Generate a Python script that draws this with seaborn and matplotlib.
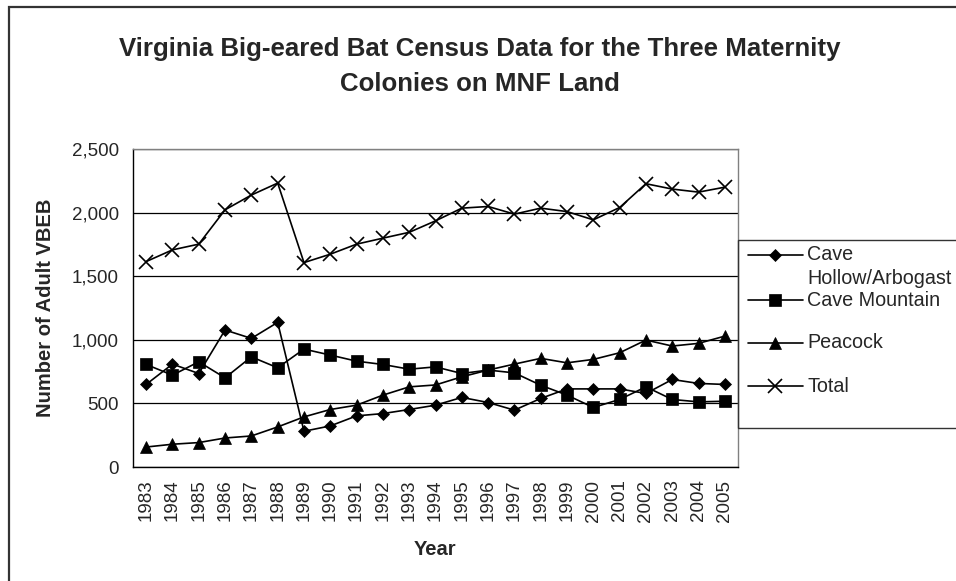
import matplotlib
matplotlib.use("Agg")
import matplotlib.pyplot as plt
from matplotlib.lines import Line2D
from matplotlib.patches import Rectangle
from matplotlib.ticker import FuncFormatter, MultipleLocator
import pandas as pd
import seaborn as sns

# Data
years = list(range(1983, 2006))
cave_hollow = [649, 809, 735, 1077, 1011, 1137, 281, 323, 402, 420, 452, 486,
               547, 507, 447, 539, 614, 614, 614, 578, 688, 657, 649]
cave_mountain = [806, 722, 827, 701, 866, 780, 927, 880, 832, 806, 769, 787,
                 735, 762, 740, 643, 565, 468, 531, 630, 531, 512, 517]
peacock = [157, 179, 192, 228, 244, 315, 394, 452, 486, 565, 630, 645,
           709, 762, 809, 854, 819, 846, 898, 998, 951, 972, 1029]
total = [1615, 1707, 1752, 2022, 2138, 2232, 1607, 1673, 1752, 1799, 1845, 1935,
         2035, 2048, 1988, 2035, 2008, 1943, 2040, 2227, 2185, 2161, 2200]

series_names = ["Cave Hollow/Arbogast", "Cave Mountain", "Peacock", "Total"]
series_values = [cave_hollow, cave_mountain, peacock, total]
marker_map = {"Cave Hollow/Arbogast": "D", "Cave Mountain": "s", "Peacock": "^", "Total": "x"}
size_map = {"Cave Hollow/Arbogast": 6, "Cave Mountain": 8, "Peacock": 8.5, "Total": 10}

df = pd.concat([pd.DataFrame({"Year": years, "count": vals, "series": name})
                for name, vals in zip(series_names, series_values)])

sns.set_style("white")
plt.rcParams["font.family"] = ["Liberation Sans", "DejaVu Sans"]

W, H = 956, 581
fig = plt.figure(figsize=(W / 100, H / 100), dpi=100)
ax = fig.add_axes([133 / W, 1 - 467 / H, (738 - 133) / W, (467 - 149) / H])

for name in series_names:
    sns.lineplot(data=df[df["series"] == name], x="Year", y="count", ax=ax,
                 color="black", lw=1.2, marker=marker_map[name],
                 markersize=size_map[name], markeredgewidth=1.2 if name == "Total" else 0.5,
                 markeredgecolor="black", markerfacecolor="black", legend=False)

ax.set_xlim(years[0] - 0.5, years[-1] + 0.5)
ax.set_ylim(0, 2500)
ax.yaxis.set_major_locator(MultipleLocator(500))
ax.yaxis.set_major_formatter(FuncFormatter(lambda v, p: f"{int(v):,}"))
ax.set_xticks(years)
ax.set_xticklabels([str(y) for y in years], rotation=90, fontsize=13.5)
ax.set_xticks([y - 0.5 for y in years] + [years[-1] + 0.5], minor=True)
ax.tick_params(axis="x", which="major", length=0, pad=9)
ax.tick_params(axis="x", which="minor", length=6, width=1, color="black", direction="out")
ax.tick_params(axis="y", length=6, width=1, color="black", direction="out", labelsize=13.5, pad=4)
ax.grid(axis="y", color="black", lw=0.9)
ax.grid(axis="x", visible=False)
ax.set_axisbelow(True)
for side in ["left", "bottom"]:
    ax.spines[side].set_color("black")
    ax.spines[side].set_linewidth(1)
for side in ["top", "right"]:
    ax.spines[side].set_color("#808080")
    ax.spines[side].set_linewidth(1)

ax.set_xlabel("Year", fontsize=14.5, fontweight="bold", labelpad=13)
ax.set_ylabel("Number of Adult VBEB", fontsize=14.5, fontweight="bold", labelpad=12)

fig.text(0.502, 1 - 66.5 / H,
         "Virginia Big-eared Bat Census Data for the Three Maternity\nColonies on MNF Land",
         ha="center", va="center", fontsize=18.6, fontweight="bold", linespacing=1.6)

# outer chart border
fig.add_artist(Rectangle((8.5 / W, -0.1), 1.2, 1 - 6.5 / H + 0.1, transform=fig.transFigure,
                         fill=False, edgecolor="#333333", lw=1.6))

# legend box, running off the right edge like the original
fig.add_artist(Rectangle((738 / W, 1 - 428 / H), 0.3, (428 - 240) / H, transform=fig.transFigure,
                         fill=False, edgecolor="#333333", lw=1))
leg_rows = [255, 300, 343, 386]
for name, yrow in zip(series_names, leg_rows):
    yy = 1 - yrow / H
    fig.add_artist(Line2D([748 / W, 775 / W, 803 / W], [yy, yy, yy], transform=fig.transFigure,
                          color="black", lw=1.2, marker=marker_map[name], markevery=[1],
                          markersize=size_map[name],
                          markeredgewidth=1.2 if name == "Total" else 0.5,
                          markerfacecolor="black", markeredgecolor="black"))

# legend labels (first one wraps as in the original)
leg_fs = 14.2
fig.text(807 / W, 1 - 255 / H, "Cave", ha="left", va="center", fontsize=leg_fs)
fig.text(807 / W, 1 - 279 / H, "Hollow/Arbogast", ha="left", va="center", fontsize=leg_fs)
fig.text(807 / W, 1 - 300 / H, "Cave Mountain", ha="left", va="center", fontsize=leg_fs)
fig.text(807 / W, 1 - 343 / H, "Peacock", ha="left", va="center", fontsize=leg_fs)
fig.text(807 / W, 1 - 387 / H, "Total", ha="left", va="center", fontsize=leg_fs)

fig.savefig("out.png", dpi=100, facecolor="white")
